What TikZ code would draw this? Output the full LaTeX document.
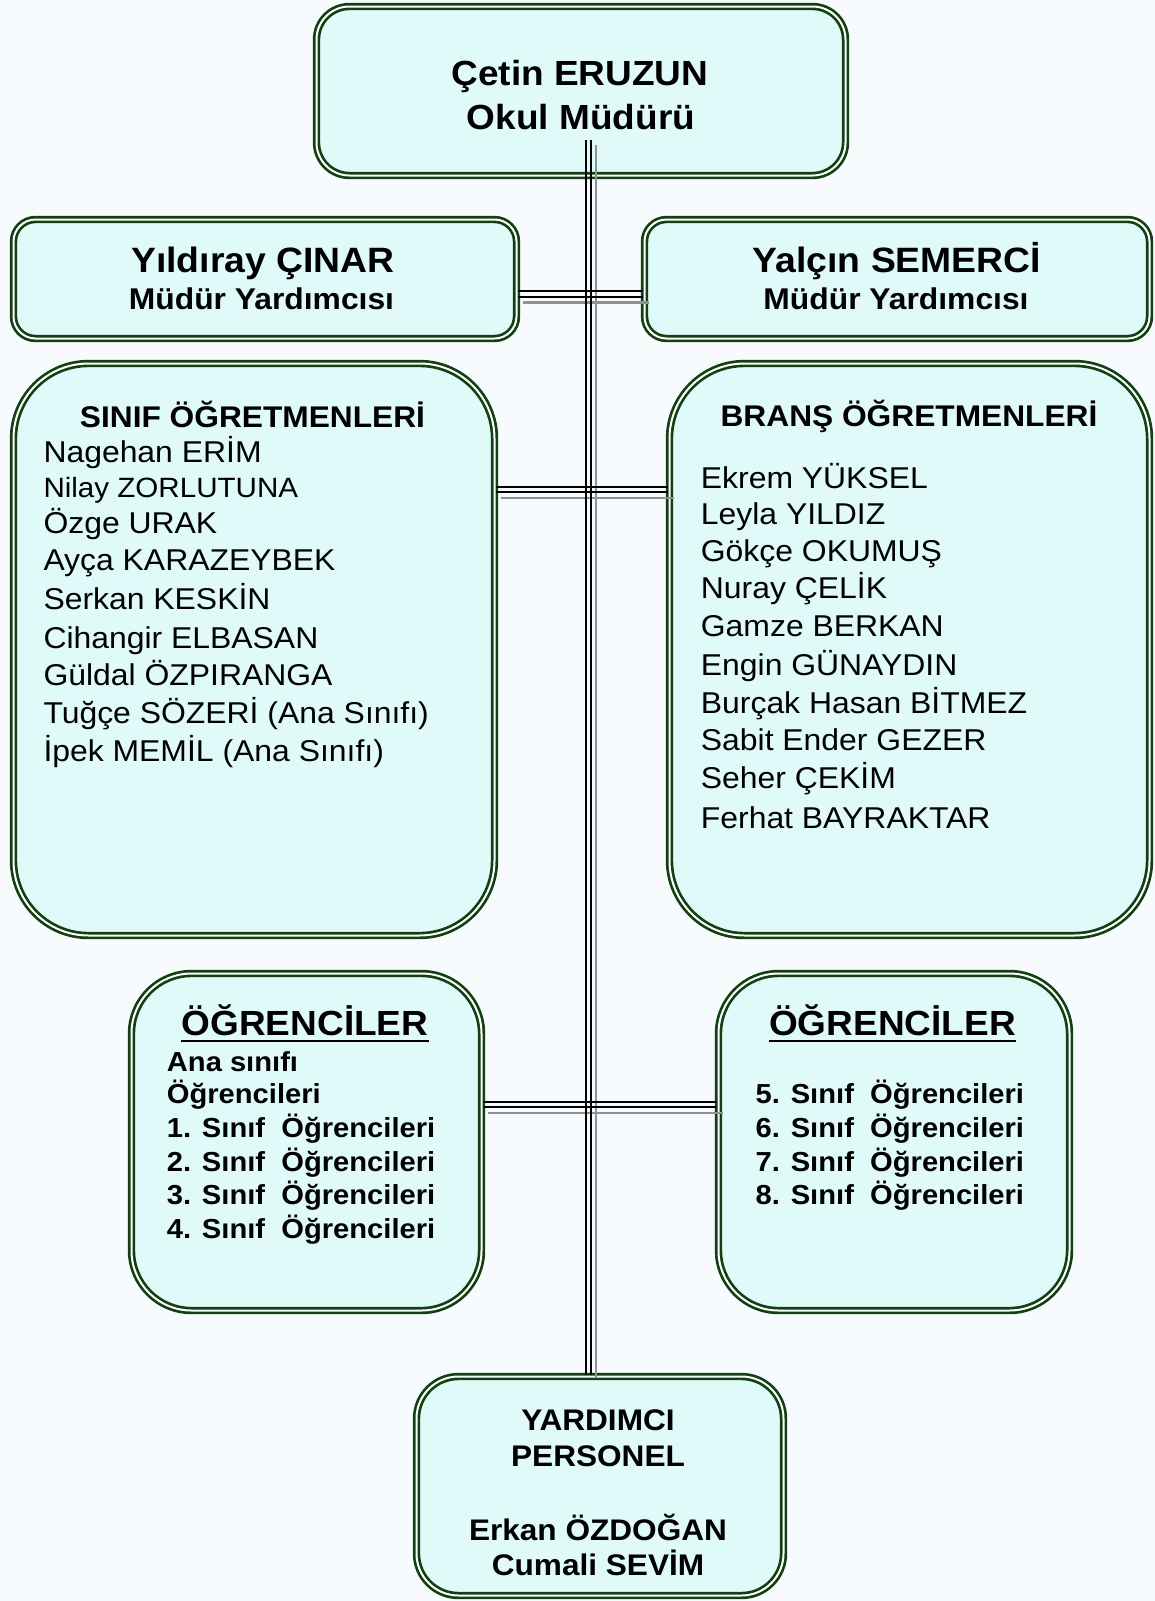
\documentclass[tikz,border=0pt]{standalone}
\usepackage{fontspec}
\setmainfont{Liberation Sans}[FakeStretch=1.06]
\usetikzlibrary{calc}
\definecolor{grn}{RGB}{18,64,18}
\definecolor{boxfill}{RGB}{224,250,250}
\definecolor{bgc}{RGB}{247,251,253}
\definecolor{shadowgrey}{RGB}{145,145,145}
\newcommand{\fsz}[1]{\fontsize{#1}{#1}\selectfont}
\begin{document}
\begin{tikzpicture}[x=1pt,y=-1pt,
  box/.style={rectangle, draw=grn, double=white, double distance=2pt, line width=2.7pt, fill=boxfill, inner sep=0pt},
  txt/.style={inner sep=0pt, anchor=base, text=black},
  lst/.style={inner sep=0pt, anchor=base west, text=black},
  cline/.style={draw=black, line width=2pt},
  sline/.style={draw=shadowgrey, line width=2.5pt},
  uline/.style={draw=black, line width=2.5pt}
]
\fill[bgc] (0,0) rectangle (1155,1601);
\useasboundingbox (0,0) rectangle (1155,1601);

% boxes
\node[box, rounded corners=33pt, minimum width=529pt, minimum height=169pt] (dir) at (581,91) {};
\node[box, rounded corners=22pt, minimum width=503pt, minimum height=119pt] (vpL) at (265,279) {};
\node[box, rounded corners=22pt, minimum width=505pt, minimum height=119pt] (vpR) at (897,279) {};
\node[box, rounded corners=75pt, minimum width=481pt, minimum height=572pt] (sinif) at (254,649.5) {};
\node[box, rounded corners=75pt, minimum width=480pt, minimum height=572pt] (brans) at (909.5,649.5) {};
\node[box, rounded corners=60pt, minimum width=350pt, minimum height=337pt] (ogrL) at (306.5,1142) {};
\node[box, rounded corners=60pt, minimum width=351pt, minimum height=337pt] (ogrR) at (894,1142) {};
\node[box, rounded corners=42pt, minimum width=367pt, minimum height=219pt] (yard) at (600,1486) {};

% connector end points
\coordinate (vtop) at (588,140);
\coordinate (vbot) at (vtop |- yard.north);
\coordinate (h1l) at (vpL.east |- 0,294.2);
\coordinate (h1r) at (vpR.west |- 0,294.2);
\coordinate (h2l) at (sinif.east |- 0,489.5);
\coordinate (h2r) at (brans.west |- 0,489.5);
\coordinate (h3l) at (ogrL.east |- 0,1104.5);
\coordinate (h3r) at (ogrR.west |- 0,1104.5);

% shadows
\draw[sline] ($(vtop)+(8,5)$) -- ($(vbot)+(8,3)$);
\draw[sline] ($(h1l)+(5.5,8.25)$) -- ($(h1r)+(5.5,8.25)$);
\draw[sline] ($(h2l)+(5.5,8.25)$) -- ($(h2r)+(5.5,8.25)$);
\draw[sline] ($(h3l)+(5.5,8.25)$) -- ($(h3r)+(5.5,8.25)$);
% black double lines
\draw[cline] ($(vtop)+(-2.5,0)$) -- ($(vbot)+(-2.5,0)$);
\draw[cline] ($(vtop)+(2.5,0)$) -- ($(vbot)+(2.5,0)$);
\foreach \a/\b in {h1l/h1r,h2l/h2r,h3l/h3r}{
  \draw[cline] ($(\a)+(0,-2.75)$) -- ($(\b)+(0,-2.75)$);
  \draw[cline] ($(\a)+(0,2.75)$) -- ($(\b)+(0,2.75)$);
}

% director
\node[txt, font=\bfseries\fsz{34.9}] (t1) at (580,85.5) {Çetin ERUZUN};
\node[txt, font=\bfseries\fsz{34.9}] (t2) at (581,129) {Okul Müdürü};
% vice principals
\node[txt, font=\bfseries\fsz{35.2}] (vl1) at (263,272) {Yıldıray ÇINAR};
\node[txt, font=\bfseries\fsz{30}] (vl2) at (261.5,309) {Müdür Yardımcısı};
\node[txt, font=\bfseries\fsz{35.2}] (vr1) at (897,272) {Yalçın SEMERCİ};
\node[txt, font=\bfseries\fsz{30}] (vr2) at (896,309) {Müdür Yardımcısı};
% class teachers
\node[txt, font=\bfseries\fsz{29.9}] (st) at (252.5,427) {SINIF ÖĞRETMENLERİ};
\node[lst, font=\fsz{30.1}] (s1) at (43.3,462.5) {Nagehan ERİM};
\node[lst, font=\fsz{27.9}] (s2) at (43.3,497.5) {Nilay ZORLUTUNA};
\node[lst, font=\fsz{30.1}] (s3) at (43.3,533.5) {Özge URAK};
\node[lst, font=\fsz{30.1}] (s4) at (43.3,570) {Ayça KARAZEYBEK};
\node[lst, font=\fsz{30.1}] (s5) at (43.3,609.5) {Serkan KESKİN};
\node[lst, font=\fsz{30.1}] (s6) at (43.3,648.5) {Cihangir ELBASAN};
\node[lst, font=\fsz{30.1}] (s7) at (43.3,685.5) {Güldal ÖZPIRANGA};
\node[lst, font=\fsz{30.1}] (s8) at (43.3,723) {Tuğçe SÖZERİ (Ana Sınıfı)};
\node[lst, font=\fsz{30.1}] (s9) at (43.3,761) {İpek MEMİL (Ana Sınıfı)};
% branch teachers
\node[txt, font=\bfseries\fsz{29.9}] (bt) at (909,426) {BRANŞ ÖĞRETMENLERİ};
\node[lst, font=\fsz{30.1}] (b1) at (700.7,488) {Ekrem YÜKSEL};
\node[lst, font=\fsz{30.1}] (b2) at (700.7,524.5) {Leyla YILDIZ};
\node[lst, font=\fsz{30.1}] (b3) at (700.7,561) {Gökçe OKUMUŞ};
\node[lst, font=\fsz{30.1}] (b4) at (700.7,598) {Nuray ÇELİK};
\node[lst, font=\fsz{30.1}] (b5) at (700.7,636) {Gamze BERKAN};
\node[lst, font=\fsz{30.1}] (b6) at (700.7,675.5) {Engin GÜNAYDIN};
\node[lst, font=\fsz{30.1}] (b7) at (700.7,713.5) {Burçak Hasan BİTMEZ};
\node[lst, font=\fsz{30.1}] (b8) at (700.7,750) {Sabit Ender GEZER};
\node[lst, font=\fsz{30.1}] (b9) at (700.7,788) {Seher ÇEKİM};
\node[lst, font=\fsz{30.1}] (b10) at (700.7,828) {Ferhat BAYRAKTAR};
% students left
\node[txt, font=\bfseries\fsz{34.9}] (olt) at (305,1035) {ÖĞRENCİLER};
\draw[uline] ($(olt.base west)+(0,6)$) -- ($(olt.base east)+(0,6)$);
\node[lst, font=\bfseries\fsz{27.5}] (ol1) at (166.7,1071) {Ana sınıfı};
\node[lst, font=\bfseries\fsz{27.5}] (ol2) at (166.7,1103.5) {Öğrencileri};
\node[lst, font=\bfseries\fsz{27.5}] (ol3) at (166.7,1137) {1. Sınıf\ \ Öğrencileri};
\node[lst, font=\bfseries\fsz{27.5}] (ol4) at (166.7,1171) {2. Sınıf\ \ Öğrencileri};
\node[lst, font=\bfseries\fsz{27.5}] (ol5) at (166.7,1204.6) {3. Sınıf\ \ Öğrencileri};
\node[lst, font=\bfseries\fsz{27.5}] (ol6) at (166.7,1238) {4. Sınıf\ \ Öğrencileri};
% students right
\node[txt, font=\bfseries\fsz{34.9}] (ort) at (892.5,1035) {ÖĞRENCİLER};
\draw[uline] ($(ort.base west)+(0,6)$) -- ($(ort.base east)+(0,6)$);
\node[lst, font=\bfseries\fsz{27.5}] (or1) at (755.5,1103.5) {5. Sınıf\ \ Öğrencileri};
\node[lst, font=\bfseries\fsz{27.5}] (or2) at (755.5,1137) {6. Sınıf\ \ Öğrencileri};
\node[lst, font=\bfseries\fsz{27.5}] (or3) at (755.5,1171) {7. Sınıf\ \ Öğrencileri};
\node[lst, font=\bfseries\fsz{27.5}] (or4) at (755.5,1204.6) {8. Sınıf\ \ Öğrencileri};
% support staff
\node[txt, font=\bfseries\fsz{29.8}] (y1) at (598,1430) {YARDIMCI};
\node[txt, font=\bfseries\fsz{29.8}] (y2) at (598,1466) {PERSONEL};
\node[txt, font=\bfseries\fsz{29.8}] (y3) at (598,1540) {Erkan ÖZDOĞAN};
\node[txt, font=\bfseries\fsz{29.8}] (y4) at (598,1575) {Cumali SEVİM};
\end{tikzpicture}
\end{document}
